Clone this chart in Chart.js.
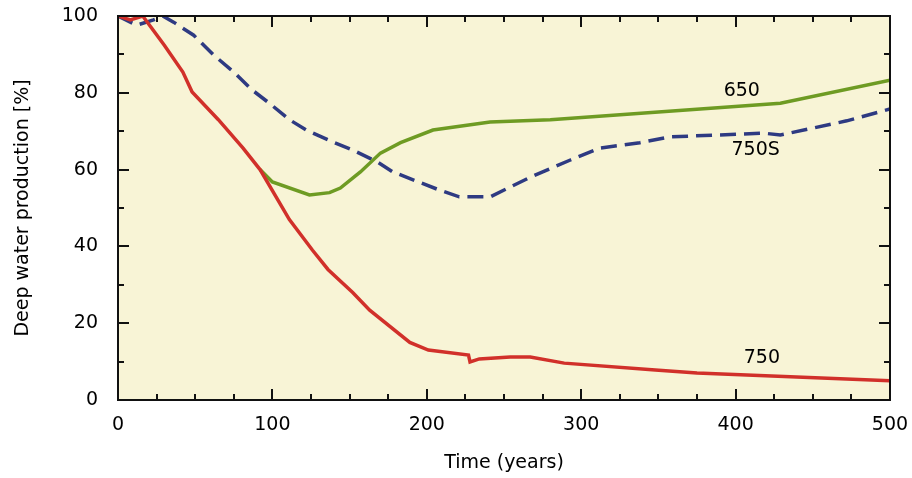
<!DOCTYPE html>
<html lang="en">
<head>
    <meta charset="UTF-8">
    <title>Deep water production</title>
    <style>
        body {
            margin: 0;
            background: #ffffff;
        }
    </style>
</head>
<body>
    <canvas id="prod-chart" width="912" height="478"></canvas>

    <script src="https://cdn.jsdelivr.net/npm/chart.js"></script>

    <script>
        // data (time in years, production in %)
        const time750 = [0, 8, 16, 30, 42, 48, 65, 81, 92, 111, 126, 136, 152, 163, 189, 201, 227, 228, 234, 254, 267, 289, 348, 375, 500];
        const prod750 = [100, 99, 100, 92.4, 85.4, 80.2, 73, 65.6, 60, 47, 39, 34, 28, 23.4, 15, 13, 11.7, 9.9, 10.7, 11.2, 11.2, 9.6, 7.8, 7, 5];

        const time650 = [92, 100, 124, 137, 144, 157, 170, 183, 204, 241, 280, 429, 500];
        const prod650 = [60, 56.8, 53.4, 54, 55.2, 59.4, 64.3, 67, 70.3, 72.4, 73, 77.3, 83.3];

        const time750S = [0, 12, 23, 29, 36, 49, 62, 75, 87, 98, 111, 122, 139, 152, 168, 178, 208, 221, 241, 267, 293, 312, 338, 357, 418, 429, 450, 472, 500];
        const prod750S = [100, 97.6, 99, 100, 98.4, 95, 89.8, 85.4, 80.7, 77.3, 73, 70.3, 67.2, 65.1, 62, 59.4, 54.7, 52.9, 52.9, 58, 62.5, 65.6, 67, 68.5, 69.5, 69, 70.8, 72.7, 75.8];

        const xTicks = [0, 100, 200, 300, 400, 500];
        const yTicks = [0, 20, 40, 60, 80, 100];

        // curve labels: [text, time, value]
        const curveLabels = [
            ['650', 404, 80.5],
            ['750S', 413, 65],
            ['750', 417, 11]
        ];

        const toPoints = (xs, ys) => xs.map((x, i) => ({ x: x, y: ys[i] }));

        const frameColor = '#111111';
        const fontSize = 19;
        const labelFont = fontSize + 'px "DejaVu Sans", sans-serif';

        // fill the plot area
        const bgPlugin = {
            id: 'plotBg',
            beforeDraw(chart) {
                const a = chart.chartArea;
                const c = chart.ctx;
                c.save();
                c.fillStyle = '#f8f4d6';
                c.fillRect(a.left, a.top, a.right - a.left, a.bottom - a.top);
                c.restore();
            }
        };

        // box + inward ticks on all four sides, curve names
        const framePlugin = {
            id: 'frame',
            afterDraw(chart) {
                const a = chart.chartArea;
                const c = chart.ctx;
                const xs = chart.scales.x;
                const ys = chart.scales.y;
                c.save();
                c.strokeStyle = frameColor;
                c.lineWidth = 2;
                c.strokeRect(a.left, a.top, a.right - a.left, a.bottom - a.top);

                for (let t = 25; t < 500; t += 25) {
                    const px = Math.round(xs.getPixelForValue(t));
                    const len = t % 100 === 0 ? 11 : 6;
                    c.beginPath();
                    c.moveTo(px, a.bottom);
                    c.lineTo(px, a.bottom - len);
                    c.moveTo(px, a.top);
                    c.lineTo(px, a.top + len);
                    c.stroke();
                }
                for (let v = 10; v < 100; v += 10) {
                    const py = Math.round(ys.getPixelForValue(v));
                    const len = v % 20 === 0 ? 11 : 6;
                    c.beginPath();
                    c.moveTo(a.left, py);
                    c.lineTo(a.left + len, py);
                    c.moveTo(a.right, py);
                    c.lineTo(a.right - len, py);
                    c.stroke();
                }

                c.fillStyle = '#000000';
                c.font = labelFont;
                c.textAlign = 'center';
                c.textBaseline = 'middle';
                curveLabels.forEach(([txt, t, v]) => {
                    c.fillText(txt, xs.getPixelForValue(t), ys.getPixelForValue(v));
                });
                c.restore();
            }
        };

        const ctx = document.getElementById('prod-chart').getContext('2d');
        const chart = new Chart(ctx, {
            type: 'line',
            data: {
                datasets: [
                    {
                        label: '750',
                        data: toPoints(time750, prod750),
                        borderColor: '#d1302a',
                        borderWidth: 3.5,
                        pointRadius: 0,
                        tension: 0
                    },
                    {
                        label: '650',
                        data: toPoints(time650, prod650),
                        borderColor: '#6e9b23',
                        borderWidth: 3.5,
                        pointRadius: 0,
                        tension: 0
                    },
                    {
                        label: '750S',
                        data: toPoints(time750S, prod750S),
                        borderColor: '#2e3a82',
                        borderWidth: 3.5,
                        borderDash: [16, 8],
                        pointRadius: 0,
                        tension: 0
                    }
                ]
            },
            options: {
                responsive: false,
                animation: false,
                layout: {
                    padding: { top: 16, right: 22, left: 0, bottom: 0 }
                },
                plugins: {
                    legend: { display: false },
                    tooltip: { enabled: false }
                },
                scales: {
                    x: {
                        type: 'linear',
                        min: 0,
                        max: 500,
                        afterBuildTicks: s => { s.ticks = xTicks.map(v => ({ value: v })); },
                        ticks: {
                            color: '#000000',
                            font: { family: 'DejaVu Sans', size: fontSize },
                            padding: 6,
                            maxRotation: 0,
                            autoSkip: false
                        },
                        grid: { display: false },
                        border: { display: false },
                        title: {
                            display: true,
                            text: 'Time (years)',
                            color: '#000000',
                            font: { family: 'DejaVu Sans', size: fontSize },
                            padding: { top: 8 }
                        },
                        afterFit: s => {
                            s.height = 78;
                            s.paddingLeft = 0;
                            s.paddingRight = 0;
                        }
                    },
                    y: {
                        min: 0,
                        max: 100,
                        afterBuildTicks: s => { s.ticks = yTicks.map(v => ({ value: v })); },
                        ticks: {
                            color: '#000000',
                            font: { family: 'DejaVu Sans', size: fontSize },
                            padding: 12,
                            autoSkip: false
                        },
                        grid: { display: false },
                        border: { display: false },
                        title: {
                            display: true,
                            text: 'Deep water production [%]',
                            color: '#000000',
                            font: { family: 'DejaVu Sans', size: fontSize },
                            padding: { top: 12, bottom: 8 }
                        },
                        afterFit: s => {
                            s.width = 118;
                            s.paddingTop = 0;
                            s.paddingBottom = 0;
                        }
                    }
                }
            },
            plugins: [bgPlugin, framePlugin]
        });
    </script>
</body>
</html>
